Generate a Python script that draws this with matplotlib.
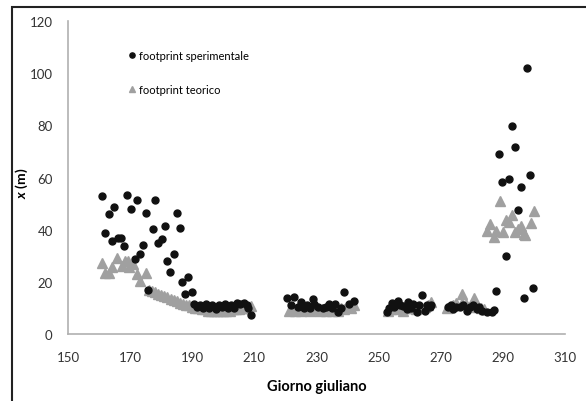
import matplotlib.pyplot as plt
import matplotlib.patches as patches

# footprint sperimentale (giorno giuliano, x in m)
exp_day = [160.8, 162.0, 163.1, 164.1, 164.9, 166.2, 167.1, 168.0, 169.1, 170.2,
           171.6, 172.3, 173.2, 174.1, 175.1, 175.9, 177.3, 178.1, 178.9, 180.2,
           181.1, 181.9, 182.9, 184.1, 185.1, 186.1, 186.8, 187.8, 188.7, 189.9,
           190.5, 191.5, 192.5, 193.5, 194.5, 195.5, 196.5, 197.5, 198.5, 199.5,
           200.5, 201.5, 202.5, 203.5, 204.5, 205.5, 206.5, 207.5, 208.0, 208.9,
           220.6, 221.8, 222.9, 224.0, 225.0, 226.0, 227.0, 228.0, 229.0, 229.2,
           230.5, 232.0, 232.9, 234.0, 235.0, 236.0, 237.0, 238.0, 239.0, 240.6,
           242.1,
           252.8, 253.5, 254.2, 255.0, 256.3, 257.0, 258.0, 259.0, 259.6, 260.5,
           261.2, 262.3, 263.0, 263.9, 264.9, 265.5, 266.5, 267.0,
           272.4, 273.2, 274.0, 275.0, 276.2, 277.2, 278.4, 279.5, 280.5, 281.6,
           282.4, 283.2, 284.8, 286.4, 287.0,
           287.8, 288.9, 289.7, 290.9, 291.9, 292.8, 293.8, 294.9, 295.7, 296.8,
           297.9, 298.8, 299.8]
exp_x = [52.8, 38.7, 45.9, 35.7, 48.7, 36.8, 36.8, 33.6, 53.3, 48.1,
         28.8, 51.4, 30.6, 34.3, 46.5, 16.9, 40.4, 51.3, 34.8, 36.3,
         41.5, 27.9, 23.6, 30.6, 46.5, 40.6, 20.1, 15.2, 21.7, 16.2,
         11.5, 10.5, 11.0, 10.0, 11.5, 10.0, 11.0, 9.5, 11.0, 10.5,
         11.5, 10.0, 11.0, 10.0, 12.0, 11.5, 12.0, 11.0, 10.0, 7.3,
         13.7, 11.1, 14.1, 10.5, 12.4, 10.0, 11.0, 10.0, 13.4, 11.4,
         10.5, 10.0, 10.2, 11.5, 10.0, 11.5, 8.5, 10.0, 16.2, 11.5,
         12.5,
         8.3, 10.0, 11.9, 10.5, 12.5, 11.0, 10.9, 9.5, 12.2, 10.0,
         11.5, 8.3, 11.0, 15.0, 8.9, 11.0, 10.2, 11.0,
         10.2, 11.0, 9.6, 10.5, 10.2, 11.0, 8.9, 10.2, 11.0, 9.6,
         10.5, 8.9, 8.3, 8.6, 9.2,
         16.4, 68.9, 58.2, 29.8, 59.3, 79.9, 71.7, 47.7, 56.5, 13.8,
         101.9, 61.1, 17.5]

# footprint teorico
teo_day = [160.8, 161.9, 163.2, 164.3, 165.9, 167.4, 168.5, 169.3, 169.7, 171.0,
           172.1, 173.2, 175.1,
           176, 177, 178, 179, 180, 181, 182, 183, 184, 185, 186, 187, 188, 189,
           190, 191, 192, 193, 194, 195, 196, 197, 198, 199, 200, 201, 202, 203,
           204, 205, 206, 207, 208, 209,
           221, 222, 223, 224, 225, 226, 227, 228, 229, 230, 231, 232, 233, 234,
           235, 236, 237, 238, 239, 240, 241, 242,
           253, 254, 255, 256, 257, 258, 259, 260, 261, 262, 263, 264, 265, 266, 267,
           272, 273, 274, 275, 276.8, 277, 278, 279, 280.8, 281, 282, 283, 284,
           284.8, 285.9, 287.2, 287.8, 289.0, 290.1, 291.0, 292.0, 293.0, 293.9,
           295.0, 295.7, 296.9, 297.2, 299.0, 300.0]
teo_x = [27.1, 23.3, 23.3, 25.6, 29.1, 26.2, 28.1, 28.0, 25.8, 27.0,
         22.9, 20.4, 23.3,
         17.0, 16.5, 16.0, 15.5, 15.0, 14.5, 14.0, 13.5, 13.0, 12.5, 12.0, 11.5, 11.0, 11.0,
         10.5, 10.0, 10.0, 9.5, 9.5, 9.0, 9.0, 9.0, 9.0, 9.0, 9.0, 9.0, 9.0, 9.5,
         9.5, 9.5, 10.0, 10.0, 10.0, 10.9,
         9.0, 9.5, 9.0, 10.0, 9.0, 9.5, 10.0, 9.0, 9.5, 10.0, 9.0, 9.5, 9.0, 10.0,
         9.0, 9.5, 9.0, 10.0, 9.5, 10.5, 10.0, 11.0,
         9.0, 9.5, 10.0, 9.5, 10.0, 9.0, 10.0, 10.5, 10.0, 9.5, 10.0, 10.0, 10.5, 11.0, 12.2,
         10.0, 10.5, 11.0, 12.0, 15.3, 12.0, 11.5, 10.5, 13.7, 11.0, 10.5, 10.0, 9.5,
         39.6, 42.2, 37.0, 39.5, 51.1, 39.2, 43.8, 43.0, 45.8, 39.0,
         40.3, 41.3, 38.2, 37.8, 42.4, 47.3]

xticks = list(range(150, 311, 20))
yticks = list(range(0, 121, 20))

plt.rcParams['font.family'] = ['Lato', 'DejaVu Sans']
plt.rcParams['mathtext.fontset'] = 'custom'
plt.rcParams['mathtext.it'] = 'Lato:italic:bold'

fig = plt.figure(figsize=(5.86, 4.02), dpi=100)
ax = fig.add_axes([68 / 586, 1 - 335 / 402, 497 / 586, 313 / 402])

ax.plot(teo_day, teo_x, linestyle='none', marker='^', markersize=6.5,
        color='#a0a0a0', label='footprint teorico', zorder=2)
ax.plot(exp_day, exp_x, linestyle='none', marker='o', markersize=5,
        color='#111111', label='footprint sperimentale', zorder=3)

ax.set_xlim(150, 310)
ax.set_ylim(0, 120)
ax.set_xticks(xticks)
ax.set_yticks(yticks)
ax.tick_params(length=0, labelsize=9.5, labelcolor='#333333')
ax.tick_params(axis='x', pad=12)
ax.tick_params(axis='y', pad=11)
for s in ('top', 'right'):
    ax.spines[s].set_visible(False)
for s in ('left', 'bottom'):
    ax.spines[s].set_color('#b0b0b0')
    ax.spines[s].set_linewidth(1.2)

ax.set_xlabel('Giorno giuliano', fontsize=10.5, fontweight='bold', labelpad=12)
ax.set_ylabel(r'$\it{x}$ (m)', fontsize=10, fontweight='bold')
ax.yaxis.set_label_coords(-0.076, 0.486)

h, l = ax.get_legend_handles_labels()
ax.legend(h[::-1], l[::-1], loc='upper left', bbox_to_anchor=(0.108, 0.925),
          frameon=False, fontsize=8, borderpad=0, labelspacing=2.1,
          handlelength=0.8, handletextpad=0.3, numpoints=1, markerscale=0.75)

# figure frame (cropped on right and bottom)
fig.patches.append(patches.Rectangle((12 / 586, -0.05), 1.1, 1 - 8 / 402 + 0.05,
                                     transform=fig.transFigure, fill=False,
                                     edgecolor='#222222', linewidth=1.5))

fig.savefig('out.png', dpi=100)
